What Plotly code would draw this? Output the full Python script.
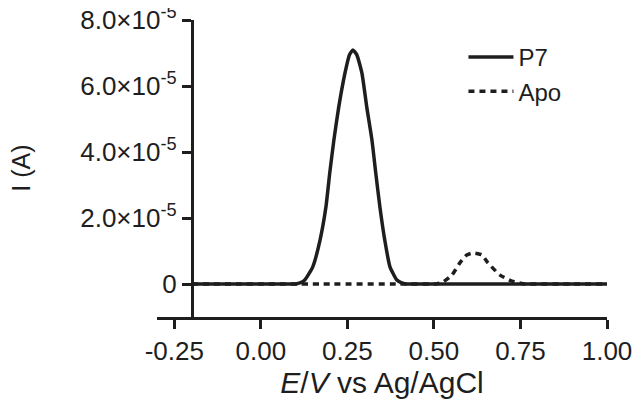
import plotly.graph_objects as go

# P7 trace (E in V, I in A)
p7_x = [-0.20, 0.00, 0.09, 0.104, 0.115, 0.127, 0.150, 0.171, 0.188, 0.199, 0.211, 0.225, 0.243, 0.256, 0.266,
        0.277, 0.292, 0.306, 0.321, 0.332, 0.344, 0.358, 0.373, 0.393, 0.405, 0.416, 0.43, 0.60, 0.80, 1.00]
p7_y = [0.0, 0.0, 0.0, 0.01e-5, 0.04e-5, 0.12e-5, 0.52e-5, 1.33e-5, 2.33e-5, 3.36e-5, 4.36e-5, 5.36e-5, 6.39e-5, 6.95e-5, 7.09e-5,
        6.95e-5, 6.39e-5, 5.36e-5, 4.36e-5, 3.36e-5, 2.33e-5, 1.33e-5, 0.52e-5, 0.12e-5, 0.04e-5, 0.01e-5, 0.0, 0.0, 0.0, 0.0]

# Apo trace
apo_x = [-0.20, 0.20, 0.40, 0.50, 0.509, 0.526, 0.552, 0.575, 0.595, 0.613, 0.639, 0.656, 0.691, 0.725, 0.757, 0.77, 0.90, 1.00]
apo_y = [0.0, 0.0, 0.0, 0.0, 0.01e-5, 0.06e-5, 0.27e-5, 0.64e-5, 0.88e-5, 0.94e-5, 0.88e-5, 0.64e-5, 0.27e-5, 0.09e-5, 0.01e-5, 0.0, 0.0, 0.0]

x_tickvals = [-0.25, 0.0, 0.25, 0.5, 0.75, 1.0]
x_ticktext = ["-0.25", "0.00", "0.25", "0.50", "0.75", "1.00"]
y_tickvals = [0, 2e-5, 4e-5, 6e-5, 8e-5]
y_ticktext = ["0", "2.0×10<sup>-5</sup>", "4.0×10<sup>-5</sup>", "6.0×10<sup>-5</sup>", "8.0×10<sup>-5</sup>"]
y_title = "I (A)"

INK = "#1e1e1e"
FONT = "Liberation Sans, Arial, sans-serif"

fig = go.Figure()
fig.add_trace(go.Scatter(x=p7_x, y=p7_y, mode="lines", name="P7",
                         line=dict(color=INK, width=3.5, shape="spline", smoothing=0.5)))
fig.add_trace(go.Scatter(x=apo_x, y=apo_y, mode="lines", name="Apo",
                         line=dict(color=INK, width=3.5, dash="6px,5px", shape="spline", smoothing=0.5)))

fig.update_layout(
    width=641, height=406,
    margin=dict(l=149, r=42, t=12, b=97, autoexpand=False),
    paper_bgcolor="white", plot_bgcolor="white",
    font=dict(family=FONT, size=25, color=INK),
    showlegend=True,
    legend=dict(x=0.681, y=0.95, xanchor="left", yanchor="top", itemwidth=45,
                bgcolor="rgba(0,0,0,0)", font=dict(family=FONT, size=24, color=INK), tracegroupgap=4),
    xaxis=dict(range=[-0.3, 1.0], tickvals=x_tickvals, ticktext=x_ticktext,
               tickfont=dict(family=FONT, size=26, color=INK),
               showline=True, linecolor=INK, linewidth=2.5, ticks="outside",
               ticklen=9, tickwidth=2.5, tickcolor=INK, showgrid=False, zeroline=False,
               title=dict(text="<i>E</i>/<i>V</i> vs Ag/AgCl", standoff=3),
               anchor="y", automargin=False, ticklabeloverflow="allow"),
    yaxis=dict(range=[-1e-5, 8e-5], tickvals=y_tickvals, ticktext=y_ticktext,
               tickfont=dict(family=FONT, size=26, color=INK),
               showline=True, linecolor=INK, linewidth=2.5, ticks="outside",
               ticklen=9, tickwidth=2.5, tickcolor=INK, showgrid=False, zeroline=False,
               anchor="free", position=0.0769, automargin=False, ticklabeloverflow="allow"),
    annotations=[dict(text=y_title, xref="paper", yref="paper", x=-0.304, y=0.5,
                      xanchor="center", yanchor="middle", textangle=-90, showarrow=False)],
)

fig.write_html("out.html")
